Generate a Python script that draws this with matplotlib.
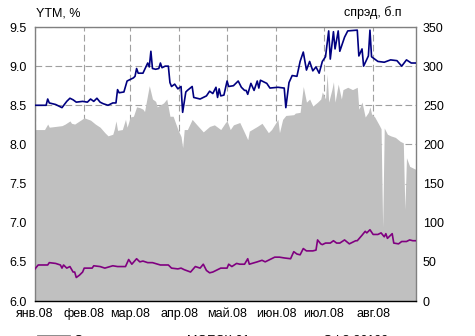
import numpy as np
import matplotlib
matplotlib.use("Agg")
import matplotlib.pyplot as plt
from matplotlib.lines import Line2D
from matplotlib.patches import Patch
from matplotlib.ticker import FormatStrFormatter

plt.rcParams['font.family'] = ['Liberation Sans', 'DejaVu Sans']
plt.rcParams['font.size'] = 9

START = np.datetime64('2008-01-01')

# YTM of МОЕСК-01, % (day offset from 1 Jan 2008)
moesk_days = [0, 7, 8, 9, 13, 17, 20, 22, 24, 26, 30, 33, 35, 37, 39, 41, 43, 46, 49, 51,
              52, 53, 56, 58, 60, 62, 63, 64, 65, 68, 71, 72, 73, 74, 76, 78, 79, 80, 82, 84,
              85, 86, 88, 90, 92, 93, 95, 96, 99, 100, 104, 108, 110, 112, 114, 115, 116, 117,
              119, 121, 122, 125, 128, 130, 132, 133, 134, 136, 138, 140, 141, 142, 146, 148,
              153, 157, 158, 160, 162, 165, 167, 169, 171, 173, 175, 177, 179, 181, 183, 185,
              186, 188, 189, 191, 192, 195, 197, 203, 204, 206, 207, 210, 211, 212, 216, 220,
              224, 228, 231, 234, 237, 240]
moesk_ytm = [8.50, 8.50, 8.58, 8.53, 8.51, 8.47, 8.55, 8.59, 8.57, 8.54, 8.55, 8.54, 8.58,
             8.55, 8.59, 8.54, 8.52, 8.50, 8.53, 8.53, 8.70, 8.66, 8.67, 8.81, 8.83, 8.85,
             8.87, 8.97, 8.91, 8.91, 9.04, 8.99, 9.19, 8.97, 8.96, 8.97, 9.04, 8.98, 9.00,
             9.00, 8.79, 8.74, 8.77, 8.71, 8.74, 8.41, 8.67, 8.69, 8.74, 8.60, 8.58, 8.62,
             8.68, 8.65, 8.73, 8.60, 8.71, 8.62, 8.63, 8.81, 8.74, 8.75, 8.81, 8.73, 8.69,
             8.69, 8.64, 8.78, 8.69, 8.81, 8.72, 8.82, 8.78, 8.72, 8.73, 8.72, 8.47, 8.79,
             8.88, 8.87, 9.06, 9.18, 8.95, 9.06, 8.94, 8.99, 8.91, 9.06, 9.12, 9.45, 9.09,
             9.44, 9.22, 9.45, 9.19, 9.37, 9.45, 9.46, 9.13, 9.22, 9.00, 9.13, 9.46, 9.12,
             9.06, 9.05, 9.08, 9.07, 9.00, 9.08, 9.04, 9.04]

# YTM of ОФЗ 26199, %
ofz_days = [0, 2, 8, 9, 13, 16, 17, 18, 20, 22, 24, 25, 26, 28, 30, 31, 36, 37, 41, 44, 49,
            52, 57, 59, 61, 64, 66, 68, 71, 74, 79, 84, 86, 90, 92, 94, 98, 101, 104, 106,
            108, 110, 112, 117, 121, 122, 124, 127, 129, 132, 134, 135, 140, 143, 145, 148,
            151, 154, 157, 161, 163, 165, 167, 169, 171, 175, 177, 178, 180, 181, 183, 186,
            188, 190, 192, 195, 198, 202, 203, 206, 208, 209, 211, 213, 216, 218, 220, 221,
            222, 225, 226, 229, 231, 234, 236, 238, 240]
ofz_ytm = [6.41, 6.46, 6.46, 6.49, 6.48, 6.46, 6.42, 6.46, 6.42, 6.44, 6.37, 6.37, 6.30,
           6.33, 6.37, 6.42, 6.42, 6.45, 6.44, 6.42, 6.45, 6.44, 6.44, 6.53, 6.47, 6.54,
           6.50, 6.51, 6.49, 6.49, 6.46, 6.46, 6.42, 6.41, 6.42, 6.40, 6.37, 6.44, 6.42,
           6.47, 6.39, 6.36, 6.37, 6.42, 6.42, 6.47, 6.44, 6.48, 6.47, 6.47, 6.54, 6.47,
           6.50, 6.52, 6.50, 6.53, 6.56, 6.56, 6.55, 6.54, 6.63, 6.60, 6.59, 6.67, 6.64,
           6.64, 6.65, 6.78, 6.73, 6.72, 6.74, 6.74, 6.77, 6.74, 6.74, 6.78, 6.73, 6.77,
           6.77, 6.84, 6.89, 6.87, 6.91, 6.85, 6.85, 6.87, 6.82, 6.86, 6.80, 6.86, 6.74,
           6.73, 6.76, 6.76, 6.78, 6.77, 6.77]

# Spread, basis points
spread_days = [0, 6, 8, 9, 13, 17, 19, 22, 23, 25, 28, 31, 35, 38, 41, 44, 46, 49, 50, 51,
               52, 55, 57, 58, 60, 62, 64, 66, 68, 69, 72, 74, 76, 77, 81, 83, 85, 87, 90,
               92, 93, 94, 96, 99, 102, 106, 110, 113, 117, 120, 121, 123, 125, 129, 132,
               134, 135, 140, 143, 147, 149, 153, 154, 156, 158, 163, 164, 167, 169, 171,
               173, 175, 178, 180, 181, 183, 184, 185, 187, 188, 189, 191, 193, 194, 197,
               200, 203, 204, 206, 208, 210, 211, 212, 214, 217, 218, 219, 220, 222, 224,
               227, 230, 232, 233, 234, 236, 240]
spread_bp = [219, 219, 226, 222, 223, 224, 226, 230, 227, 226, 230, 234, 231, 226, 222, 215,
             211, 213, 220, 230, 218, 219, 232, 222, 235, 236, 248, 247, 245, 242, 275, 258,
             255, 248, 253, 258, 236, 236, 219, 210, 196, 219, 219, 232, 225, 216, 223, 225,
             219, 228, 230, 219, 225, 228, 215, 206, 217, 223, 227, 215, 219, 232, 215, 232,
             237, 238, 240, 241, 274, 254, 258, 249, 254, 258, 267, 258, 290, 254, 270, 280,
             254, 277, 258, 270, 273, 270, 273, 245, 254, 235, 241, 248, 239, 235, 224, 220,
             94, 221, 213, 211, 209, 204, 202, 117, 183, 172, 168]

month_starts = ['2008-01-01', '2008-02-01', '2008-03-01', '2008-04-01',
                '2008-05-01', '2008-06-01', '2008-07-01', '2008-08-01']
month_labels = ['янв.08', 'фев.08', 'мар.08', 'апр.08', 'май.08', 'июн.08', 'июл.08', 'авг.08']

ytm_ticks = [6.0, 6.5, 7.0, 7.5, 8.0, 8.5, 9.0, 9.5]
spread_ticks = [0, 50, 100, 150, 200, 250, 300, 350]

GREY_FILL = '#C0C0C0'
NAVY = '#000080'
PURPLE = '#800080'


def to_dates(days):
    return START + np.array(days, dtype='timedelta64[D]')


W, H = 475, 336
fig = plt.figure(figsize=(W / 100, H / 100), dpi=100)
ax1 = fig.add_axes([35 / W, 1 - 301 / H, 381 / W, 274 / H])

# spread area on the right-hand scale
ax1.fill_between(to_dates(spread_days), spread_bp, 0, color=GREY_FILL, lw=0, zorder=1)
ax1.set_ylim(0, 350)
ax1.set_yticks(spread_ticks)
ax1.set_xlim(START, START + np.timedelta64(240, 'D'))
ax1.set_xticks(np.array(month_starts, dtype='datetime64[D]'))
ax1.set_xticklabels(month_labels)
ax1.grid(True, color='#a0a0a0', ls=(0, (6, 3)), lw=0.8)
ax1.set_axisbelow(True)

# YTM lines on the left-hand scale
ax2 = ax1.twinx()
ax2.plot(to_dates(moesk_days), moesk_ytm, color=NAVY, lw=1.2, zorder=3)
ax2.plot(to_dates(ofz_days), ofz_ytm, color=PURPLE, lw=1.2, zorder=3)
ax2.set_ylim(6.0, 9.5)
ax2.set_yticks(ytm_ticks)
ax2.yaxis.set_major_formatter(FormatStrFormatter('%.1f'))
ax2.yaxis.tick_left()
ax2.yaxis.set_label_position('left')
ax1.yaxis.tick_right()
ax1.yaxis.set_label_position('right')

ax1.tick_params(axis='y', length=0, pad=5, labelsize=9)
ax1.tick_params(axis='x', length=0, pad=5, labelsize=9)
ax2.tick_params(axis='y', length=0, pad=6, labelsize=9)

for s in ax2.spines.values():
    s.set_visible(False)
for name in ('left', 'top', 'right'):
    ax1.spines[name].set_color('#808080')
    ax1.spines[name].set_linewidth(1.0)
ax1.spines['bottom'].set_color('black')
ax1.spines['bottom'].set_linewidth(1.0)

fig.text(36 / W, 1 - 13 / H, 'YTM, %', ha='left', va='center', fontsize=9)
fig.text(402 / W, 1 - 13 / H, 'спрэд, б.п', ha='right', va='center', fontsize=9)

# legend row along the bottom edge
legend_items = [
    (Patch(facecolor=GREY_FILL, edgecolor='#808080', lw=0.6), 'Спред', 37),
    (Line2D([], [], color=NAVY, lw=1.2), 'МОЕСК-01', 151),
    (Line2D([], [], color=PURPLE, lw=1.2), 'ОФЗ 26199', 287),
]
for handle, label, x0 in legend_items:
    fig.legend([handle], [label], loc='center left',
               bbox_to_anchor=(x0 / W, -5 / H), frameon=False,
               borderpad=0, borderaxespad=0, handlelength=2.64,
               handletextpad=0.25, fontsize=9)

fig.savefig('out.png', dpi=100)
